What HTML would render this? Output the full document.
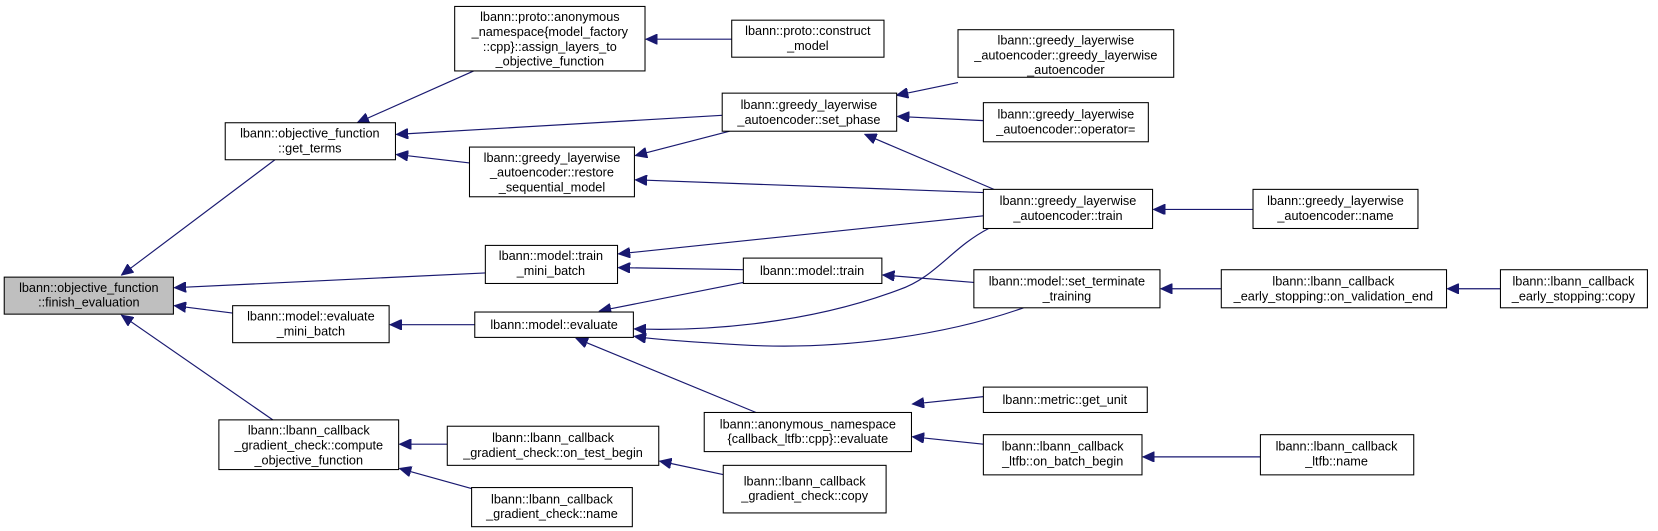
<!DOCTYPE html>
<html><head><meta charset="utf-8"><style>html,body{margin:0;padding:0;background:#fff;}svg{display:block}</style></head>
<body>
<svg width="1658" height="531" viewBox="0 0 1568 502" xmlns="http://www.w3.org/2000/svg" font-family="'Liberation Sans', sans-serif" font-size="12" text-anchor="middle">
<defs>
<marker id="a" markerUnits="userSpaceOnUse" markerWidth="12" markerHeight="10" refX="11" refY="5" orient="auto">
<path d="M0,0 L11,5 L0,10 z" fill="#191970" stroke="#191970"/>
</marker>
</defs>
<g fill="none" stroke="#191970" stroke-width="1.1" marker-end="url(#a)">
<path d="M260,151 L115,260"/>
<path d="M459,258 L165,272"/>
<path d="M220,296 L165,289"/>
<path d="M258,397 L115,298"/>
<path d="M448,67 L338,116"/>
<path d="M683,109 L375,127"/>
<path d="M444,154 L375,146"/>
<path d="M692,37 L611,37"/>
<path d="M690,124 L601,147"/>
<path d="M930,182 L601,170"/>
<path d="M906,78 L848,90"/>
<path d="M930,114 L849,110"/>
<path d="M940,179 L818,127"/>
<path d="M1185,198 L1091,198"/>
<path d="M930,204 L585,240"/>
<path d="M703,255 L585,253"/>
<path d="M449,307 L369,307"/>
<path d="M703,267 L567,294"/>
<path d="M935,216 C900,234 885,262 850,274 C760,308 660,313 600,311"/>
<path d="M968,291 C900,315 800,332 700,326 C650,323 620,321 600,318"/>
<path d="M921,267 L835,260"/>
<path d="M715,390 L545,320"/>
<path d="M1155,273 L1098,273"/>
<path d="M1419,273 L1369,273"/>
<path d="M930,375 L863,382"/>
<path d="M930,420 L863,413"/>
<path d="M1192,432 L1081,432"/>
<path d="M423,420 L378,420"/>
<path d="M446,462 L378,443"/>
<path d="M690,450 L624,436"/>
</g>
<g stroke="#000" stroke-width="1" fill="#fff">
<rect x="4" y="262" width="160" height="35" fill="#bfbfbf"/>
<rect x="213" y="116" width="161" height="35"/>
<rect x="430" y="6" width="180" height="61"/>
<rect x="692" y="19" width="144" height="35"/>
<rect x="683" y="88" width="165" height="36"/>
<rect x="444" y="139" width="156" height="47"/>
<rect x="906" y="28" width="204" height="45"/>
<rect x="930" y="97" width="156" height="37"/>
<rect x="930" y="179" width="160" height="37"/>
<rect x="1185" y="179" width="156" height="37"/>
<rect x="459" y="232" width="125" height="36"/>
<rect x="703" y="244" width="131" height="24"/>
<rect x="921" y="255" width="176" height="36"/>
<rect x="1155" y="255" width="213" height="36"/>
<rect x="1419" y="255" width="139" height="36"/>
<rect x="220" y="289" width="148" height="35"/>
<rect x="449" y="295" width="150" height="24"/>
<rect x="666" y="390" width="196" height="37"/>
<rect x="930" y="366" width="155" height="24"/>
<rect x="930" y="411" width="150" height="38"/>
<rect x="1192" y="411" width="145" height="38"/>
<rect x="207" y="397" width="170" height="47"/>
<rect x="423" y="403" width="200" height="37"/>
<rect x="446" y="461" width="152" height="37"/>
<rect x="684" y="440" width="154" height="45"/>
</g>
<g fill="#000">
<text x="84" y="276">lbann::objective_function</text><text x="84" y="290">::finish_evaluation</text>
<text x="293" y="130">lbann::objective_function</text><text x="293" y="144">::get_terms</text>
<text x="520" y="20">lbann::proto::anonymous</text><text x="520" y="34">_namespace{model_factory</text><text x="520" y="48">::cpp}::assign_layers_to</text><text x="520" y="62">_objective_function</text>
<text x="764" y="33">lbann::proto::construct</text><text x="764" y="47">_model</text>
<text x="765" y="103">lbann::greedy_layerwise</text><text x="765" y="117">_autoencoder::set_phase</text>
<text x="522" y="153">lbann::greedy_layerwise</text><text x="522" y="167">_autoencoder::restore</text><text x="522" y="181">_sequential_model</text>
<text x="1008" y="42">lbann::greedy_layerwise</text><text x="1008" y="56">_autoencoder::greedy_layerwise</text><text x="1008" y="70">_autoencoder</text>
<text x="1008" y="112">lbann::greedy_layerwise</text><text x="1008" y="126">_autoencoder::operator=</text>
<text x="1010" y="194">lbann::greedy_layerwise</text><text x="1010" y="208">_autoencoder::train</text>
<text x="1263" y="194">lbann::greedy_layerwise</text><text x="1263" y="208">_autoencoder::name</text>
<text x="521" y="246">lbann::model::train</text><text x="521" y="260">_mini_batch</text>
<text x="768" y="260">lbann::model::train</text>
<text x="1009" y="270">lbann::model::set_terminate</text><text x="1009" y="284">_training</text>
<text x="1261" y="270">lbann::lbann_callback</text><text x="1261" y="284">_early_stopping::on_validation_end</text>
<text x="1488" y="270">lbann::lbann_callback</text><text x="1488" y="284">_early_stopping::copy</text>
<text x="294" y="303">lbann::model::evaluate</text><text x="294" y="317">_mini_batch</text>
<text x="524" y="311">lbann::model::evaluate</text>
<text x="764" y="405">lbann::anonymous_namespace</text><text x="764" y="419">{callback_ltfb::cpp}::evaluate</text>
<text x="1007" y="382">lbann::metric::get_unit</text>
<text x="1005" y="426">lbann::lbann_callback</text><text x="1005" y="440">_ltfb::on_batch_begin</text>
<text x="1264" y="426">lbann::lbann_callback</text><text x="1264" y="440">_ltfb::name</text>
<text x="292" y="411">lbann::lbann_callback</text><text x="292" y="425">_gradient_check::compute</text><text x="292" y="439">_objective_function</text>
<text x="523" y="418">lbann::lbann_callback</text><text x="523" y="432">_gradient_check::on_test_begin</text>
<text x="522" y="476">lbann::lbann_callback</text><text x="522" y="490">_gradient_check::name</text>
<text x="761" y="459">lbann::lbann_callback</text><text x="761" y="473">_gradient_check::copy</text>
</g>
</svg>
</body></html>
